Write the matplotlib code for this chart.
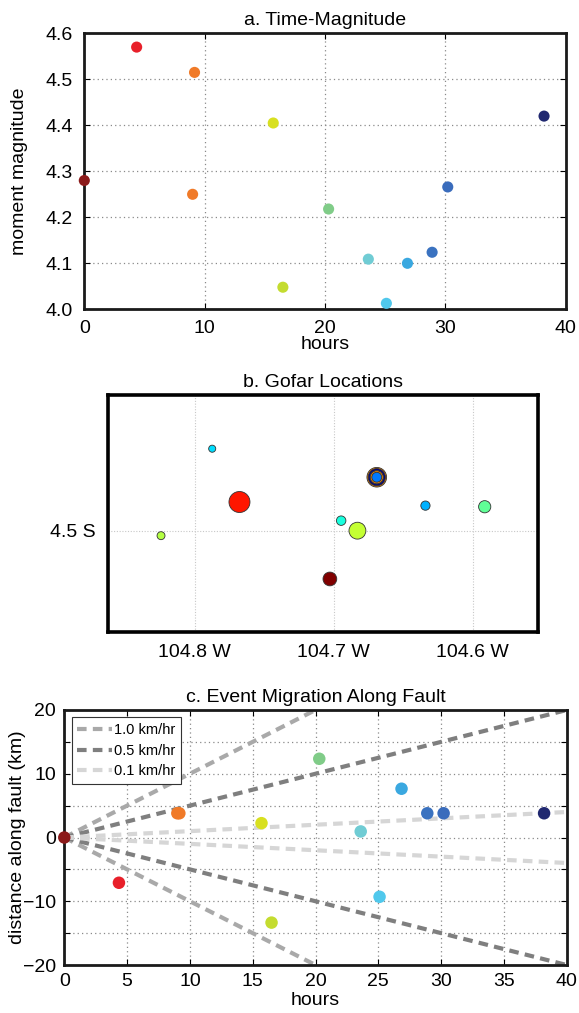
import matplotlib
matplotlib.use("Agg")
import matplotlib.pyplot as plt
import numpy as np

plt.rcParams['font.family'] = ['Liberation Sans', 'DejaVu Sans']
plt.rcParams['font.size'] = 14

# ---- event catalogue ----
hours = [0.0, 4.35, 9.0, 9.16, 15.7, 16.5, 20.3, 23.6, 25.1, 26.85, 28.9, 30.2, 38.2]
magnitude = [4.28, 4.57, 4.25, 4.515, 4.405, 4.048, 4.218, 4.109, 4.013, 4.100, 4.124, 4.266, 4.420]
lon = [-104.7027, -104.7677, -104.669, -104.669, -104.6829, -104.8241, -104.5914,
       -104.6946, -104.7873, -104.634, -104.669, -104.669, -104.669]
lat = [-4.5347, -4.4794, -4.4616, -4.4616, -4.5, -4.5036, -4.4828,
       -4.4928, -4.4411, -4.482, -4.4616, -4.4616, -4.4616]
distance_km = [0.0, -7.1, 3.8, 3.8, 2.25, -13.35, 12.35, 0.95, -9.3, 7.65, 3.8, 3.8, 3.8]
event_colors = ['#8b1a1a', '#e8202a', '#f07a28', '#f07a28', '#d8e020', '#c4dc30', '#80cc88',
                '#70ccd4', '#50c8ec', '#3aa8e0', '#3a72c0', '#3a6cbc', '#202870']

# migration reference rates
rates = [1.0, 0.5, 0.1]
rate_colors = ['#a9a9a9', '#7f7f7f', '#d6d6d6']

# map ticks
lon_ticks = [-104.8, -104.7, -104.6]
lat_ticks = [-4.5]

W, H = 579, 1013
fig = plt.figure(figsize=(W / 100, H / 100), dpi=100)


def px_axes(x0, y0, x1, y1):
    return fig.add_axes([x0 / W, 1 - y1 / H, (x1 - x0) / W, (y1 - y0) / H])


grid_kw = dict(color='#8a8a8a', linestyle=(0, (1, 2.5)), linewidth=0.9)

# ---- a. Time-Magnitude ----
ax = px_axes(84.3, 33.3, 565.7, 309.3)
ax.scatter(hours, magnitude, s=8.0 ** 2, c=event_colors, edgecolors='none',
           zorder=3, clip_on=False)
ax.set_xlim(0, 40)
ax.set_ylim(4.0, 4.6)
ax.set_xticks([0, 10, 20, 30, 40])
ax.set_yticks(np.round(np.arange(4.0, 4.61, 0.1), 1))
ax.yaxis.set_major_formatter(matplotlib.ticker.FormatStrFormatter('%.1f'))
ax.grid(True, **grid_kw)
ax.tick_params(direction='in', length=4, width=0.8, top=True, right=True, pad=8)
for sp in ax.spines.values():
    sp.set_linewidth(2.0)
    sp.set_color('#1a1a1a')
ax.set_title('a. Time-Magnitude', fontsize=14, pad=6)
ax.set_xlabel('hours', labelpad=-1)
ax.set_ylabel('moment magnitude')
ax.yaxis.set_label_coords(-0.117, 0.5)

# ---- b. Gofar Locations ----
ax = px_axes(108.3, 395, 537.7, 631.7)
norm = plt.Normalize(0, max(hours))
diam_px = [7 + 25 * (m - 4.01) for m in magnitude]
order = np.argsort(magnitude)[::-1]
ax.scatter([lon[i] for i in order], [lat[i] for i in order],
           s=[(diam_px[i] * 0.72) ** 2 for i in order],
           c=[hours[i] for i in order], cmap='jet_r', norm=norm,
           edgecolors='#333333', linewidths=0.6, zorder=3)
ax.set_xlim(-104.862, -104.5533)
ax.set_ylim(-4.5726, -4.4025)
ax.set_xticks(lon_ticks)
ax.set_xticklabels([f'{abs(v):.1f} W' for v in lon_ticks])
ax.set_yticks(lat_ticks)
ax.set_yticklabels([f'{abs(v):.1f} S' for v in lat_ticks])
ax.grid(True, color='#c8c8c8', linestyle=(0, (1, 1.5)), linewidth=0.8)
ax.tick_params(length=0, pad=9)
for sp in ax.spines.values():
    sp.set_linewidth(2.6)
    sp.set_color('black')
ax.set_title('b. Gofar Locations', fontsize=14, pad=6)

# ---- c. Event Migration Along Fault ----
ax = px_axes(64.3, 710, 566.7, 965)
t_line = np.array([0.0, 40.0])
for rate, col in zip(rates, rate_colors):
    ax.plot(t_line, rate * t_line, color=col, lw=3, ls=(0, (2.3, 1.5)),
            label=f'{rate:.1f} km/hr', zorder=2)
    ax.plot(t_line, -rate * t_line, color=col, lw=3, ls=(0, (2.3, 1.5)), zorder=2)
ax.scatter(hours, distance_km, s=9.0 ** 2, c=event_colors, edgecolors='none',
           zorder=3, clip_on=False)
ax.set_xlim(0, 40)
ax.set_ylim(-20, 20)
ax.set_xticks(np.arange(0, 41, 5))
ax.set_yticks([-20, -10, 0, 10, 20])
ax.set_yticks([-15, -5, 5, 15], minor=True)
ax.grid(True, which='both', **grid_kw)
ax.tick_params(which='both', direction='in', length=4, width=0.8, top=True, right=True, pad=6)
for sp in ax.spines.values():
    sp.set_linewidth(2.0)
    sp.set_color('#1a1a1a')
ax.set_title('c. Event Migration Along Fault', fontsize=14, pad=6)
ax.set_xlabel('hours', labelpad=1)
ax.set_ylabel('distance along fault (km)')
ax.yaxis.set_label_coords(-0.077, 0.5)
leg = ax.legend(loc='upper left', fontsize=10.5, handlelength=2.4, handletextpad=0.1,
                borderpad=0.4, labelspacing=0.45, borderaxespad=0.5, fancybox=False,
                framealpha=1, edgecolor='#333333')
leg.get_frame().set_linewidth(0.8)

fig.savefig('out.png', dpi=100)
